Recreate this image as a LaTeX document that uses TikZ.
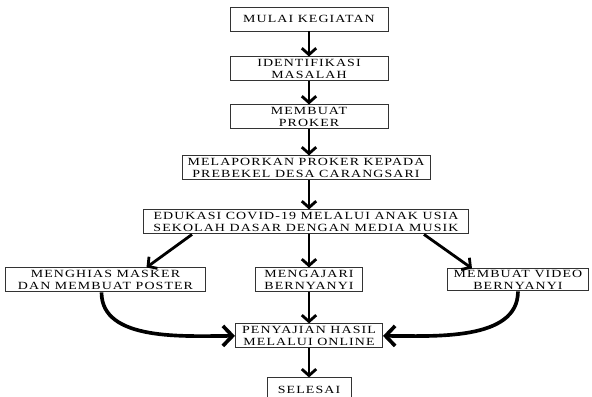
\documentclass[tikz,border=0pt]{standalone}
\usepackage{fontspec}
\setmainfont{Liberation Serif}[FakeStretch=1.27, LetterSpace=10]
\usepackage{tikz}
\usetikzlibrary{arrows.meta, positioning}

\begin{document}
\begin{tikzpicture}[
    box/.style={
      draw=black!80,
      line width=0.7pt,
      align=center,
      inner sep=0pt,
      minimum height=0.6cm,
      font=\fontsize{7.8}{8.6}\selectfont
    },
    arrow/.style={-{Straight Barb[length=1.6mm, width=3.6mm]}, line width=2pt},
    bigarrow/.style={-{Straight Barb[length=2.4mm, width=5mm]}, line width=2.6pt}
  ]
    \useasboundingbox (0,0) rectangle (14.8,-9.925);

    \node[box, minimum width=3.95cm] (mulai) at (7.725,-0.475) {MULAI KEGIATAN};
    \node[box, minimum width=3.95cm, below=0.625cm of mulai] (identifikasi) {IDENTIFIKASI\\MASALAH};
    \node[box, minimum width=3.95cm, below=0.575cm of identifikasi] (proker) {MEMBUAT\\PROKER};
    \node[box, minimum width=6.2cm, below=0.65cm of proker, xshift=-0.075cm] (lapor) {MELAPORKAN PROKER KEPADA\\PREBEKEL DESA CARANGSARI};
    \node[box, minimum width=8.125cm, below=0.725cm of lapor] (edukasi) {EDUKASI COVID-19 MELALUI ANAK USIA\\SEKOLAH DASAR DENGAN MEDIA MUSIK};

    \node[box, minimum width=2.675cm, below=0.825cm of edukasi, xshift=0.075cm] (ajar) {MENGAJARI\\BERNYANYI};
    \node[box, minimum width=5cm, left=1.225cm of ajar] (hias) {MENGHIAS MASKER\\DAN MEMBUAT POSTER};
    \node[box, minimum width=3.525cm, minimum height=0.55cm, right=2.1cm of ajar] (video) {MEMBUAT VIDEO\\BERNYANYI};

    \node[box, minimum width=3.675cm, below=0.775cm of ajar] (saji) {PENYAJIAN HASIL\\MELALUI ONLINE};
    \node[box, minimum width=2.1cm, below=0.725cm of saji] (selesai) {SELESAI};

    \draw[arrow] (mulai) -- (identifikasi);
    \draw[arrow] (identifikasi) -- (proker);
    \draw[arrow] (proker) -- (lapor.north -| proker);
    \draw[arrow] (lapor.south -| proker) -- (edukasi.north -| proker);
    \draw[arrow] (edukasi.south -| ajar) -- (ajar);
    \draw[arrow] ([xshift=-2.85cm]edukasi.south) -- ([xshift=1.025cm]hias.north);
    \draw[arrow] ([xshift=2.95cm]edukasi.south) -- ([xshift=-1.15cm]video.north);
    \draw[arrow] (ajar) -- (saji);
    \draw[arrow] (saji) -- (selesai);

    \draw[bigarrow] ([xshift=-0.1cm]hias.south) to[out=-90, in=180, looseness=0.9] (saji.west);
    \draw[bigarrow] (video.south) to[out=-90, in=0, looseness=0.9] (saji.east);
\end{tikzpicture}
\end{document}
